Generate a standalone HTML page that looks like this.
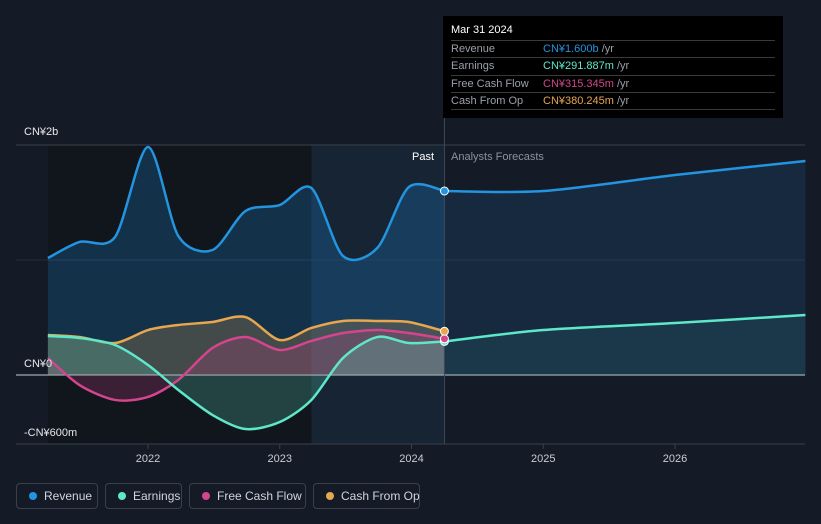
<!DOCTYPE html>
<html><head><meta charset="utf-8"><style>
body{margin:0;background:#151b26;font-family:"Liberation Sans",sans-serif;}
#wrap{position:relative;width:821px;height:524px;overflow:hidden;background:#151b26;}
.leg{position:absolute;top:483px;height:26px;border:1px solid #3a414d;border-radius:4px;color:#d0d4da;font-size:12px;line-height:24px;box-sizing:border-box;padding-left:27px;white-space:nowrap;}
.leg i{position:absolute;left:12px;top:8px;width:8px;height:8px;border-radius:50%;}
#tip{position:absolute;left:443px;top:16px;width:340px;height:102px;background:#000;color:#fff;font-size:11px;}
.row{position:absolute;left:8px;width:324px;border-top:1px solid #3a3a3a;height:17px;line-height:17px;color:#9aa0a8;}
.row span{position:absolute;left:92px;}
.row b{font-weight:normal;color:#9aa0a8;}
</style></head><body>
<div id="wrap">
<svg id="chart" width="821" height="524" style="position:absolute;left:0;top:0"></svg>
<div id="tip">
 <div style="position:absolute;left:8px;top:8px;font-size:11px;">Mar 31 2024</div>
 <div class="row" style="top:24px">Revenue<span><em style="font-style:normal;color:#2394df">CN¥1.600b</em> <b>/yr</b></span></div>
 <div class="row" style="top:41px">Earnings<span><em style="font-style:normal;color:#5ee8c9">CN¥291.887m</em> <b>/yr</b></span></div>
 <div class="row" style="top:59px">Free Cash Flow<span><em style="font-style:normal;color:#d3458d">CN¥315.345m</em> <b>/yr</b></span></div>
 <div class="row" style="top:76px">Cash From Op<span><em style="font-style:normal;color:#e8a64f">CN¥380.245m</em> <b>/yr</b></span></div>
 <div class="row" style="top:93px;height:0"></div>
</div>
<div class="leg" style="left:16px;width:82px"><i style="background:#2394df"></i>Revenue</div>
<div class="leg" style="left:105px;width:77px"><i style="background:#5ee8c9"></i>Earnings</div>
<div class="leg" style="left:189px;width:117px"><i style="background:#d3458d"></i>Free Cash Flow</div>
<div class="leg" style="left:313px;width:107px"><i style="background:#e8a64f"></i>Cash From Op</div>
</div>
<script>
const revYears=[2021.24,2021.48,2021.75,2022,2022.23,2022.49,2022.74,2023,2023.24,2023.48,2023.74,2023.98,2024.25];
const revVals=[1017,1157,1200,1983,1209,1087,1426,1478,1626,1035,1104,1635,1600];
const revFcYears=[2024.25,2025,2026,2026.99];
const revFcVals=[1600,1600,1739,1861];
const earnYears=[2021.24,2021.48,2021.75,2022,2022.23,2022.49,2022.74,2023,2023.24,2023.48,2023.74,2023.98,2024.25];
const earnVals=[339,322,261,87,-130,-348,-470,-409,-217,148,330,278,292];
const earnFcYears=[2024.25,2025,2026,2026.99];
const earnFcVals=[292,391,452,522];
const fcfYears=[2021.24,2021.48,2021.75,2022,2022.23,2022.49,2022.74,2023,2023.24,2023.48,2023.74,2023.98,2024.25];
const fcfVals=[148,-87,-217,-191,-43,235,330,217,296,365,391,365,315];
const cfoYears=[2021.24,2021.48,2021.75,2022,2022.23,2022.49,2022.74,2023,2023.24,2023.48,2023.74,2023.98,2024.25];
const cfoVals=[348,330,278,391,435,461,504,304,409,470,470,461,380];
const xTicks=[2022,2023,2024,2025,2026];
const yTicks=[{v:2000,t:"CN¥2b"},{v:0,t:"CN¥0"},{v:-600,t:"-CN¥600m"}];

const X=y=>148+(y-2022)*131.75;
const Y=v=>375-v*0.115;
const NS="http://www.w3.org/2000/svg";
const svg=document.getElementById('chart');
function mk(t,a,p){const e=document.createElementNS(NS,t);for(const k in a)e.setAttribute(k,a[k]);(p||svg).appendChild(e);return e;}
function path(xs,vs){const p=xs.map((x,i)=>[X(x),Y(vs[i])]);let d=`M${p[0][0]},${p[0][1]}`;
 for(let i=0;i<p.length-1;i++){const p0=p[i-1]||p[i],p1=p[i],p2=p[i+1],p3=p[i+2]||p2;
  const c1=[p1[0]+(p2[0]-p0[0])/7,p1[1]+(p2[1]-p0[1])/7],c2=[p2[0]-(p3[0]-p1[0])/7,p2[1]-(p3[1]-p1[1])/7];
  d+=`C${c1[0]},${c1[1]} ${c2[0]},${c2[1]} ${p2[0]},${p2[1]}`;}return d;}
function area(xs,vs){return path(xs,vs)+`L${X(xs[xs.length-1])},${Y(0)}L${X(xs[0])},${Y(0)}Z`;}

let e=mk('rect',{x:X(2021.24),y:Y(2000),width:X(2023.25)-X(2021.24),height:Y(-600)-Y(2000),fill:'#11151c'});

e=mk('rect',{x:X(2023.24),y:Y(2000),width:X(2024.25)-X(2023.24),height:Y(-600)-Y(2000),fill:'#172433'});

yTicks.forEach(t=>{e=mk('line',{x1:16,x2:805,y1:Y(t.v),y2:Y(t.v),stroke:t.v==0?'#c8ccd2':'#3a404b','stroke-width':1});
 });
e=mk('line',{x1:16,x2:805,y1:Y(1000),y2:Y(1000),stroke:'#262d38'});

const fills=[[revYears,revVals,'rgba(33,150,243,0.22)'],[revFcYears,revFcVals,'rgba(33,150,243,0.12)'],
 [cfoYears,cfoVals,'rgba(232,166,79,0.22)'],[fcfYears,fcfVals,'rgba(211,69,141,0.22)'],[earnYears,earnVals,'rgba(94,232,201,0.22)'],[earnFcYears,earnFcVals,'rgba(94,232,201,0.08)']];
fills.forEach(f=>{e=mk('path',{d:area(f[0],f[1]),fill:f[2]});});
e=mk('line',{x1:X(2024.25),x2:X(2024.25),y1:16,y2:Y(-600),stroke:'#3d4a5a'});

const lines=[[revYears,revVals,'#2394df','revenue-line'],[revFcYears,revFcVals,'#2394df','revenue-forecast-line'],
 [cfoYears,cfoVals,'#e8a64f','cfo-line'],[fcfYears,fcfVals,'#d3458d','fcf-line'],[earnYears,earnVals,'#5ee8c9','earnings-line'],[earnFcYears,earnFcVals,'#5ee8c9','earnings-forecast-line']];
lines.forEach(l=>{e=mk('path',{d:path(l[0],l[1]),fill:'none',stroke:l[2],'stroke-width':2.5});});
[[revVals,'#2394df'],[earnVals,'#5ee8c9'],[fcfVals,'#d3458d'],[cfoVals,'#e8a64f']].forEach(s=>{
 e=mk('circle',{cx:X(2024.25),cy:Y(s[0][s[0].length-1]),r:4,fill:s[1],stroke:'#fff','stroke-width':1});
 });
const yOff={2000:-10,0:-8,"-600":-8};
yTicks.forEach(t=>{e=mk('text',{x:24,y:Y(t.v)+yOff[t.v],fill:'#e6e8eb','font-size':11,'font-family':'Liberation Sans'});
 e.textContent=t.t;});
xTicks.forEach(t=>{e=mk('line',{x1:X(t),x2:X(t),y1:Y(-600),y2:Y(-600)+5,stroke:'#3a404b'});
 
 e=mk('text',{x:X(t),y:462,fill:'#c8ccd2','font-size':11,'text-anchor':'middle','font-family':'Liberation Sans'});
 e.textContent=t;});
e=mk('text',{x:434,y:160,fill:'#ffffff','font-size':11,'text-anchor':'end','font-family':'Liberation Sans'});
e.textContent='Past';
e=mk('text',{x:451,y:160,fill:'#8a929c','font-size':11,'font-family':'Liberation Sans'});
e.textContent='Analysts Forecasts';
</script>
</body></html>
